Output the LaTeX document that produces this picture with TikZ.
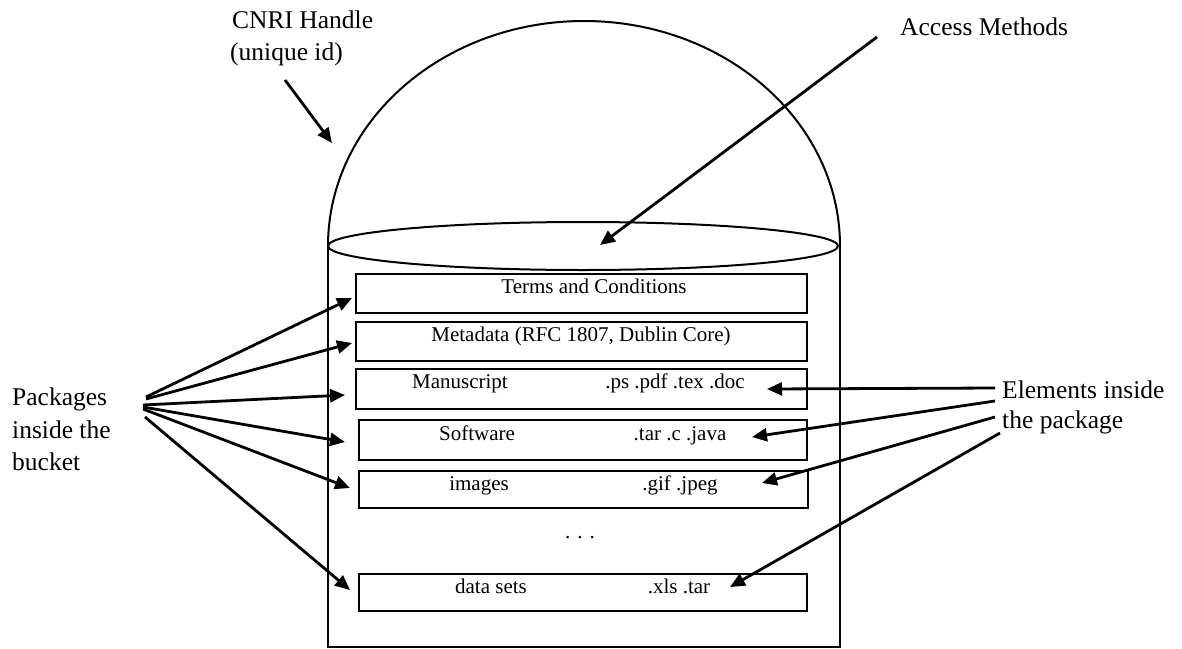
\documentclass[tikz,border=0pt]{standalone}
\usepackage{fontspec}
\setmainfont{Liberation Serif}
\usetikzlibrary{arrows.meta}
\begin{document}
\begin{tikzpicture}[x=1pt,y=-1pt,
  pbox/.style={draw, line width=2pt, inner sep=0pt, anchor=north west},
  btext/.style={font=\fontsize{21}{25}\selectfont, anchor=base, inner sep=0pt},
  ltext/.style={font=\fontsize{25.5}{30}\selectfont, anchor=base west, inner sep=0pt},
  arr/.style={line width=2.8pt, -{Triangle[length=15pt,width=13pt]}},
  outline/.style={line width=2pt}]
\useasboundingbox (0,0) rectangle (1182,648);
% bucket
\draw[outline] (328,246) arc[start angle=180, end angle=360, x radius=256, y radius=225];
\draw[outline] (583,246) ellipse[x radius=255, y radius=24];
\draw[outline] (328,246) -- (328,646.5) -- (840,646.5) -- (840,246);
% package boxes
\node[pbox, minimum width=451pt, minimum height=39pt] (terms) at (355,273) {};
\node[pbox, minimum width=451pt, minimum height=39pt] (meta) at (355,321) {};
\node[pbox, minimum width=451pt, minimum height=40pt] (manu) at (355,368) {};
\node[pbox, minimum width=448pt, minimum height=40pt] (soft) at (358,419) {};
\node[pbox, minimum width=449pt, minimum height=37pt] (imgs) at (358,470) {};
\node[pbox, minimum width=448pt, minimum height=37pt] (data) at (358,573) {};
% box texts
\node[btext] (termst) at (594,293) {Terms and Conditions};
\node[btext] (metat) at (581,341) {Metadata (RFC 1807, Dublin Core)};
\node[btext] (manut) at (460,388) {Manuscript};
\node[btext] (manue) at (675,388) {.ps .pdf .tex .doc};
\node[btext] (softt) at (477,440) {Software};
\node[btext] (softe) at (680,440) {.tar .c .java};
\node[btext] (imgst) at (479,490) {images};
\node[btext] (imgse) at (680,490) {.gif .jpeg};
\node[btext] (dots) at (580,538) {.\,\,.\,\,.};
\node[btext] (datat) at (491,593) {data sets};
\node[btext] (datae) at (679,593) {.xls .tar};
% outer labels
\node[ltext] (cnri1) at (232,28) {CNRI Handle};
\node[ltext] (cnri2) at (230,60) {(unique id)};
\node[ltext] (acc) at (900,35) {Access Methods};
\node[ltext] (pk1) at (12,405) {Packages};
\node[ltext] (pk2) at (12,438) {inside the};
\node[ltext] (pk3) at (12,470) {bucket};
\node[ltext] (el1) at (1002,398) {Elements inside};
\node[ltext] (el2) at (1002,428) {the package};
% arrow end points
\coordinate (cs) at (285,80);   \coordinate (ct) at (332,143);
\coordinate (as) at (877,37);   \coordinate (at) at (600,245);
\coordinate (p1s) at (146,397); \coordinate (p1t) at (352,298);
\coordinate (p2s) at (146,399); \coordinate (p2t) at (352,343);
\coordinate (p3s) at (143,405); \coordinate (p3t) at (345,395);
\coordinate (p4s) at (143,407); \coordinate (p4t) at (345,442);
\coordinate (p5s) at (143,409); \coordinate (p5t) at (350,488);
\coordinate (p6s) at (145,417); \coordinate (p6t) at (350,590);
\coordinate (e1s) at (995,388); \coordinate (e1t) at (767,389);
\coordinate (e2s) at (995,401); \coordinate (e2t) at (752,437);
\coordinate (e3s) at (995,417); \coordinate (e3t) at (762,483);
\coordinate (e4s) at (1000,433); \coordinate (e4t) at (730,587);
% arrows
\draw[arr] (cs) -- (ct);
\draw[arr] (as) -- (at);
\draw[arr] (p1s) -- (p1t);
\draw[arr] (p2s) -- (p2t);
\draw[arr] (p3s) -- (p3t);
\draw[arr] (p4s) -- (p4t);
\draw[arr] (p5s) -- (p5t);
\draw[arr] (p6s) -- (p6t);
\draw[arr] (e1s) -- (e1t);
\draw[arr] (e2s) -- (e2t);
\draw[arr] (e3s) -- (e3t);
\draw[arr] (e4s) -- (e4t);
\end{tikzpicture}
\end{document}
